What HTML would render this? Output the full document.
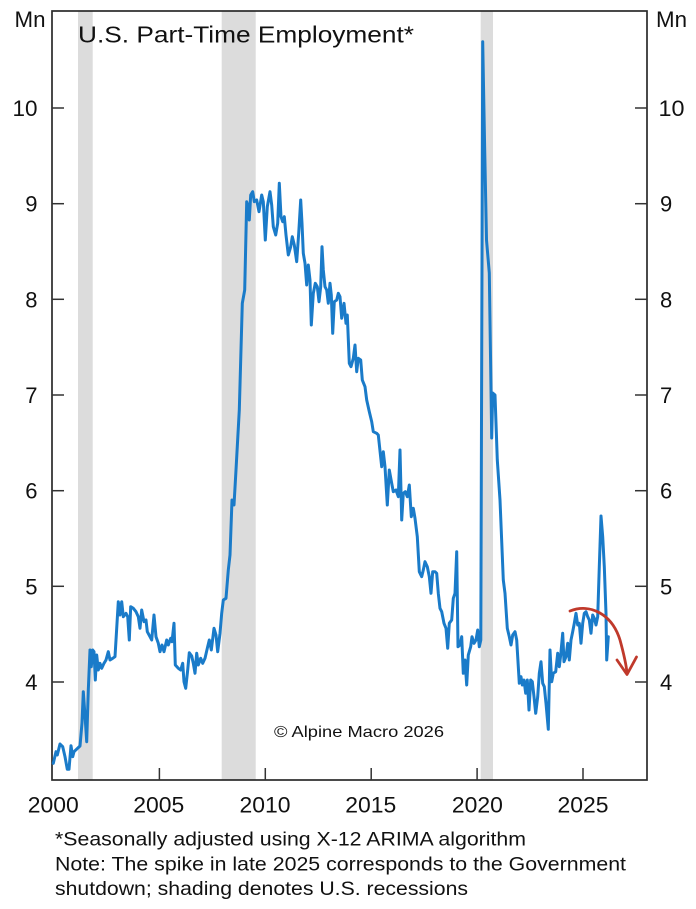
<!DOCTYPE html>
<html>
<head>
<meta charset="utf-8">
<style>
  html, body { margin: 0; padding: 0; background: #ffffff; }
  svg { display: block; }
  text { font-family: "Liberation Sans", Arial, sans-serif; fill: #111; }
</style>
</head>
<body>
<svg width="696" height="909" viewBox="0 0 696 909" xmlns="http://www.w3.org/2000/svg">
  <rect x="0" y="0" width="696" height="909" fill="#ffffff"/>

  <!-- recession shading -->
  <rect x="78" y="11" width="14.7" height="769" fill="#dcdcdc"/>
  <rect x="221.7" y="11" width="34" height="769" fill="#dcdcdc"/>
  <rect x="480.7" y="11" width="12.3" height="769" fill="#dcdcdc"/>

  <!-- frame -->
  <rect x="52" y="11" width="595" height="769" fill="none" stroke="#2a2a2a" stroke-width="1.7"/>

  <!-- left ticks -->
  <g stroke="#333" stroke-width="1.5">
    <line x1="52" y1="108" x2="64" y2="108"/>
    <line x1="52" y1="203.7" x2="64" y2="203.7"/>
    <line x1="52" y1="299.3" x2="64" y2="299.3"/>
    <line x1="52" y1="395" x2="64" y2="395"/>
    <line x1="52" y1="490.7" x2="64" y2="490.7"/>
    <line x1="52" y1="586.3" x2="64" y2="586.3"/>
    <line x1="52" y1="682" x2="64" y2="682"/>
    <!-- right ticks -->
    <line x1="635" y1="108" x2="647" y2="108"/>
    <line x1="635" y1="203.7" x2="647" y2="203.7"/>
    <line x1="635" y1="299.3" x2="647" y2="299.3"/>
    <line x1="635" y1="395" x2="647" y2="395"/>
    <line x1="635" y1="490.7" x2="647" y2="490.7"/>
    <line x1="635" y1="586.3" x2="647" y2="586.3"/>
    <line x1="635" y1="682" x2="647" y2="682"/>
    <!-- x ticks -->
    <line x1="159.4" y1="780" x2="159.4" y2="768"/>
    <line x1="265.3" y1="780" x2="265.3" y2="768"/>
    <line x1="371.2" y1="780" x2="371.2" y2="768"/>
    <line x1="477.1" y1="780" x2="477.1" y2="768"/>
    <line x1="583" y1="780" x2="583" y2="768"/>
  </g>

  <!-- left labels -->
  <g font-size="22" text-anchor="end">
    <text x="45.5" y="27" text-anchor="end" textLength="31" lengthAdjust="spacingAndGlyphs">Mn</text>
    <text x="37.5" y="116" textLength="25" lengthAdjust="spacingAndGlyphs">10</text>
    <text x="37.5" y="211.7">9</text>
    <text x="37.5" y="307.3">8</text>
    <text x="37.5" y="403">7</text>
    <text x="37.5" y="498.7">6</text>
    <text x="37.5" y="594.3">5</text>
    <text x="37.5" y="690">4</text>
  </g>
  <!-- right labels -->
  <g font-size="22">
    <text x="656" y="27" textLength="31" lengthAdjust="spacingAndGlyphs">Mn</text>
    <text x="658.5" y="116" textLength="26" lengthAdjust="spacingAndGlyphs">10</text>
    <text x="660" y="211.7">9</text>
    <text x="660" y="307.3">8</text>
    <text x="660" y="403">7</text>
    <text x="660" y="498.7">6</text>
    <text x="660" y="594.3">5</text>
    <text x="660" y="690">4</text>
  </g>

  <!-- x labels -->
  <g font-size="22" text-anchor="middle">
    <text x="53.3" y="812.7" textLength="51" lengthAdjust="spacingAndGlyphs">2000</text>
    <text x="158.8" y="812.7" textLength="51" lengthAdjust="spacingAndGlyphs">2005</text>
    <text x="265" y="812.7" textLength="51" lengthAdjust="spacingAndGlyphs">2010</text>
    <text x="370.8" y="812.7" textLength="51" lengthAdjust="spacingAndGlyphs">2015</text>
    <text x="477.4" y="812.7" textLength="51" lengthAdjust="spacingAndGlyphs">2020</text>
    <text x="583" y="812.7" textLength="51" lengthAdjust="spacingAndGlyphs">2025</text>
  </g>

  <!-- title -->
  <text x="78" y="42.7" font-size="23" textLength="336" lengthAdjust="spacingAndGlyphs">U.S. Part-Time Employment*</text>

  <!-- copyright -->
  <text x="274" y="737" font-size="16" textLength="170" lengthAdjust="spacingAndGlyphs">© Alpine Macro 2026</text>

  <!-- series -->
  <polyline fill="none" stroke="#1a7bc9" stroke-width="3" stroke-linejoin="round" stroke-linecap="round"
    points="53.3,763.3 56,751.7 57.3,755 60,744 62.7,746.7 65,756.7 67.3,769.3 69,769.3 71,745.7 72.7,756.7 74,751.7 80,746 82,723 83.3,691.7 85.3,720 86.7,741.7 88.3,690 90,650 91.3,666.7 92.7,650 94,651.7 95.3,680 96.7,655 98.3,670 100,663.3 101.7,668.3 104,663.3 106,660 108.3,651.7 110,660 112.7,658.3 115,656.7 118.3,601.7 120,615 121.7,601.7 123.3,616.7 126,613.3 127.7,616.7 129.3,640 130.7,606.7 133.3,608.3 136,611.7 138.3,616.7 140,628.3 141.7,610 144,621.7 146,620 147.3,631.7 150,636.7 151.7,640 154,615 156,636.7 158.3,643.3 160,651.7 162,645 164,651.7 166.7,640 168.3,645 170.7,638.3 172,641.7 174,623.3 175.3,665 178.3,668.3 180.7,670 182.7,663.3 184,681.7 185.7,688.3 187.7,670 189.3,652.7 191.7,656 193.3,663.3 195,673.3 196.7,653.3 198.3,665 200.7,658.3 202.7,663.3 205,658.3 207.3,648.3 209.3,640 211.3,650 214,628.3 216,635 217.7,651.7 220,633.3 221.7,613.3 223.3,600 226,598.3 228.3,570 230,555 232,500 234,505 236,470 239.3,410 242.3,303.3 244.7,290 246.7,201.7 248.3,206.7 249.3,220 250.7,195 252.7,191.7 254.3,201.7 256.7,200 259,211.7 261.7,195 263.3,201.7 265.3,240 267.3,206.7 270,191.7 271.7,205 273.3,226.7 275.7,235 277.7,223.3 279.3,183.3 281,216.7 282.7,221.7 284.3,216.7 286,235 288.3,255 290.7,246.7 292.3,236.7 294.3,245 296.7,261.7 298.7,233.3 300.7,200 302,223.3 303.3,253.3 305,263.3 306.7,285 308.3,265 310,280 311.3,325 313.3,293.3 315.3,283.3 317.3,286.7 319,301.7 320.7,286.7 322,246.7 323.3,270 325,286.7 326.7,290 328.3,303.3 330,283.3 331.3,295 332.7,333.3 334.3,301.7 336.7,300 338.3,293.3 340,296.7 341.7,318.3 344,303.3 346,323.3 347.3,315 349.3,363.3 351,366.7 353.3,358.3 355,345 356.7,371.7 358.3,358.3 360.7,360 362.3,380 365,386.7 366.7,400 369.3,411.7 371.7,421.7 373.3,431.7 376.7,433.3 378.3,435 381.7,466.7 383.3,451.7 385,466.7 387.3,505 389.3,470 391.7,483.3 393.3,491.7 396,490 398.3,496.7 400,450 401.7,520 403.3,493.3 405.3,491.7 407.3,496.7 409.3,485 411.3,516.7 413.3,508.3 415,518.3 417.3,536.7 419.3,571.7 421.7,576.7 423.3,570 425,561.7 427.3,566.7 429.3,576.7 431,593.3 432.7,571.7 435,571.7 436.7,573.3 438.3,593.3 440,608.3 441.7,611.7 444,623.3 446,628.3 447.7,648.3 449.3,623.3 451.7,620 453.3,598.3 455,593.3 456.7,551.7 458,646.7 460,645 461.7,636.7 463.3,673.3 465,660 466.7,685 468.3,655 470.7,646.7 472,636.7 474,643.3 476,640 477.7,630 479.3,646.7 480.8,640 482.7,41.7 484.5,140 486.5,240 489.3,273 491.7,438 492.7,393 495,395 497.3,460 500,500 503.3,580 505,593.3 507.3,628.3 509.3,636.7 511,645 512.7,635 515,631.7 516.7,640 519.3,683.3 521,676.7 522.3,685 524,680 525.7,693.3 527.3,680 529,710 530.7,680 532.3,681.7 534,696.7 535.7,713.3 537.7,696.7 539.3,673.3 541,661.7 542.7,683.3 544.3,686.7 546,703.3 548.3,729.3 550,650 551.7,681.7 553.3,673.3 555.7,671.7 557.7,653.3 559.3,666.7 560.7,655 562.7,633.3 564,661.7 566,656.7 567.7,643.3 569.3,660 571,640 572.7,631.7 574.3,623.3 576,613.3 577.7,625 579.3,623.3 581,643.3 582.7,623.3 584.3,613.3 586,611.7 587.7,616.7 589.3,620 591,633.3 592.7,615 594.3,618.3 596,625 597.7,616.7 599.3,566.7 601,516 602.7,536.7 604.3,566.7 606,613.3 606.7,660 608.3,636.7"/>

  <!-- red arrow -->
  <path d="M570,611 C590,603 612,614 620,640 C623,651 626,662 627,673" fill="none" stroke="#c0392b" stroke-width="2.8" stroke-linecap="round"/>
  <path d="M617,660 L627,674.5 L636.5,657" fill="none" stroke="#c0392b" stroke-width="2.8" stroke-linecap="round" stroke-linejoin="round"/>

  <!-- notes -->
  <g font-size="19.5">
    <text x="55" y="845.5" textLength="471" lengthAdjust="spacingAndGlyphs">*Seasonally adjusted using X-12 ARIMA algorithm</text>
    <text x="55" y="870.5" textLength="571" lengthAdjust="spacingAndGlyphs">Note: The spike in late 2025 corresponds to the Government</text>
    <text x="55" y="895" textLength="413" lengthAdjust="spacingAndGlyphs">shutdown; shading denotes U.S. recessions</text>
  </g>
</svg>
</body>
</html>
